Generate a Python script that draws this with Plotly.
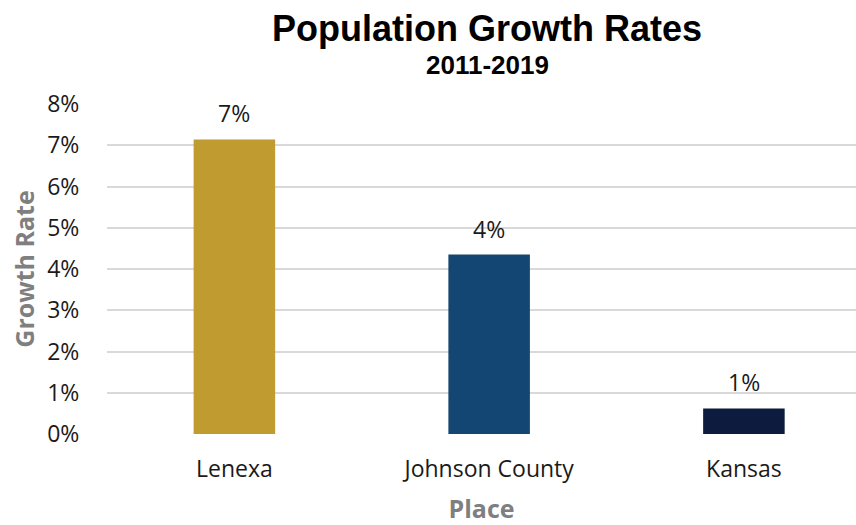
import plotly.graph_objects as go

# Population growth by place, 2011-2019
places = ["Lenexa", "Johnson County", "Kansas"]
growth_rates = [0.0714, 0.0435, 0.0062]
bar_colors = ["#BF9B30", "#134673", "#0C1B3E"]
y_ticks = [0, 0.01, 0.02, 0.03, 0.04, 0.05, 0.06, 0.07, 0.08]

label_font = dict(family="Open Sans", size=23, color="#1a1a1a")
axis_title_font = dict(family="Open Sans", size=25, color="#7f7f7f")

fig = go.Figure(
    go.Bar(
        x=places,
        y=growth_rates,
        marker=dict(color=bar_colors, line=dict(width=0)),
        width=0.32,
        hoverinfo="x+y",
    )
)

# value labels above each bar, rounded to whole percent
for place, rate in zip(places, growth_rates):
    fig.add_annotation(
        x=place,
        y=rate,
        text=f"{rate:.0%}",
        showarrow=False,
        yanchor="bottom",
        yshift=8,
        font=label_font,
    )

# title and subtitle
fig.add_annotation(
    xref="paper", yref="paper",
    x=0.508, y=1.228, xanchor="center", yanchor="middle",
    text="<b>Population Growth Rates</b>",
    showarrow=False,
    font=dict(family="Liberation Sans", size=36, color="black"),
)
fig.add_annotation(
    xref="paper", yref="paper",
    x=0.508, y=1.117, xanchor="center", yanchor="middle",
    text="<b>2011-2019</b>",
    showarrow=False,
    font=dict(family="Liberation Sans", size=26, color="black"),
)

fig.update_layout(
    width=856,
    height=525,
    paper_bgcolor="white",
    plot_bgcolor="white",
    margin=dict(l=107, r=0, t=104, b=91),
    showlegend=False,
    xaxis=dict(
        range=[-0.5, 2.44],
        showgrid=False,
        showline=False,
        zeroline=False,
        ticks="outside",
        ticklen=14,
        tickcolor="rgba(0,0,0,0)",
        tickfont=label_font,
        title=dict(text="<b>Place</b>", font=axis_title_font, standoff=20),
    ),
    yaxis=dict(
        range=[0, 0.08],
        tickvals=y_ticks,
        tickformat=".0%",
        showgrid=True,
        gridcolor="#d9d9d9",
        gridwidth=2,
        zeroline=False,
        showline=False,
        ticks="outside",
        ticklen=22,
        tickcolor="rgba(0,0,0,0)",
        tickfont=label_font,
        title=dict(text="<b>Growth Rate</b>", font=axis_title_font, standoff=5),
    ),
)

fig.write_html("out.html")
